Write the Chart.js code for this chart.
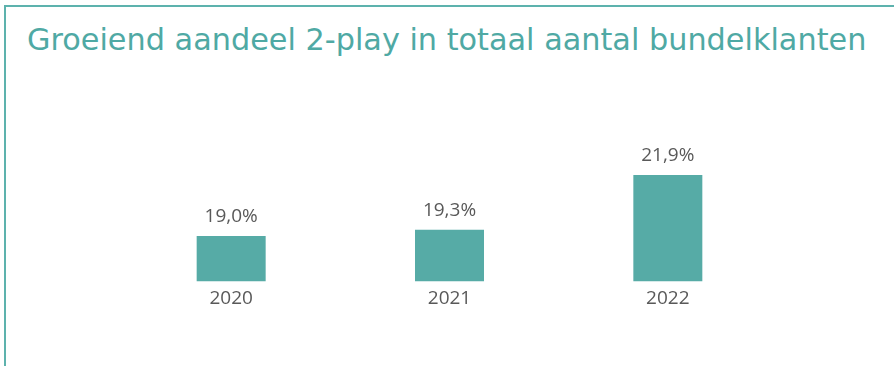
<!DOCTYPE html>
<html lang="nl">
<head>
    <meta charset="UTF-8">
    <title>Groeiend aandeel 2-play</title>
    <style>
        html, body { margin: 0; padding: 0; background: #fff; }
        #page { position: relative; width: 894px; height: 366px; overflow: hidden; }
        #frame {
            position: absolute; left: 4px; top: 5px; right: -4px; bottom: -4px;
            border-left: 2px solid #5db2ad; border-top: 2px solid #5db2ad;
        }
        #title {
            position: absolute; left: 27px; top: 24.5px; margin: 0;
            font-family: "DejaVu Sans", sans-serif;
            font-size: 30.3px; line-height: 30px; font-weight: normal;
            color: #4fa9a4; white-space: nowrap;
        }
        #chart-box { position: absolute; left: 0; top: 0; width: 894px; height: 366px; }
    </style>
</head>
<body>
    <div id="page">
        <div id="frame"></div>
        <h1 id="title">Groeiend aandeel 2-play in totaal aantal bundelklanten</h1>
        <div id="chart-box"><canvas id="shareChart"></canvas></div>
    </div>

    <script src="https://cdn.jsdelivr.net/npm/chart.js"></script>
    <script>
        // data
        const years = ['2020', '2021', '2022'];
        const shares = [19.0, 19.3, 21.9];

        // axis range (axis itself is hidden, bars start above zero)
        const yMin = 16.85;
        const yMax = 23;

        const barColor = '#56aba6';
        const textGray = '#595959';

        function fmtPct(v) {
            return v.toFixed(1).replace('.', ',') + '%';
        }

        // draws the value above each bar
        const valueLabels = {
            id: 'valueLabels',
            afterDatasetsDraw(chart) {
                const ctx = chart.ctx;
                const meta = chart.getDatasetMeta(0);
                ctx.save();
                ctx.font = '19px "Open Sans", sans-serif';
                ctx.fillStyle = textGray;
                ctx.textAlign = 'center';
                ctx.textBaseline = 'alphabetic';
                meta.data.forEach((bar, i) => {
                    ctx.fillText(fmtPct(shares[i]), bar.x, bar.y - 14);
                });
                ctx.restore();
            }
        };

        const ctx = document.getElementById('shareChart').getContext('2d');
        new Chart(ctx, {
            type: 'bar',
            data: {
                labels: years,
                datasets: [{
                    data: shares,
                    backgroundColor: barColor,
                    borderWidth: 0,
                    barPercentage: 1,
                    categoryPercentage: 0.316
                }]
            },
            options: {
                responsive: true,
                maintainAspectRatio: false,
                animation: false,
                layout: {
                    padding: { left: 122, right: 117, top: 152, bottom: 50 }
                },
                plugins: {
                    legend: { display: false },
                    tooltip: { enabled: false }
                },
                scales: {
                    x: {
                        grid: { display: false, drawTicks: false, tickLength: 0 },
                        border: { display: false },
                        ticks: {
                            color: textGray,
                            padding: 6,
                            font: { family: '"Open Sans", sans-serif', size: 19 }
                        }
                    },
                    y: {
                        display: false,
                        min: yMin,
                        max: yMax
                    }
                }
            },
            plugins: [valueLabels]
        });
    </script>
</body>
</html>
